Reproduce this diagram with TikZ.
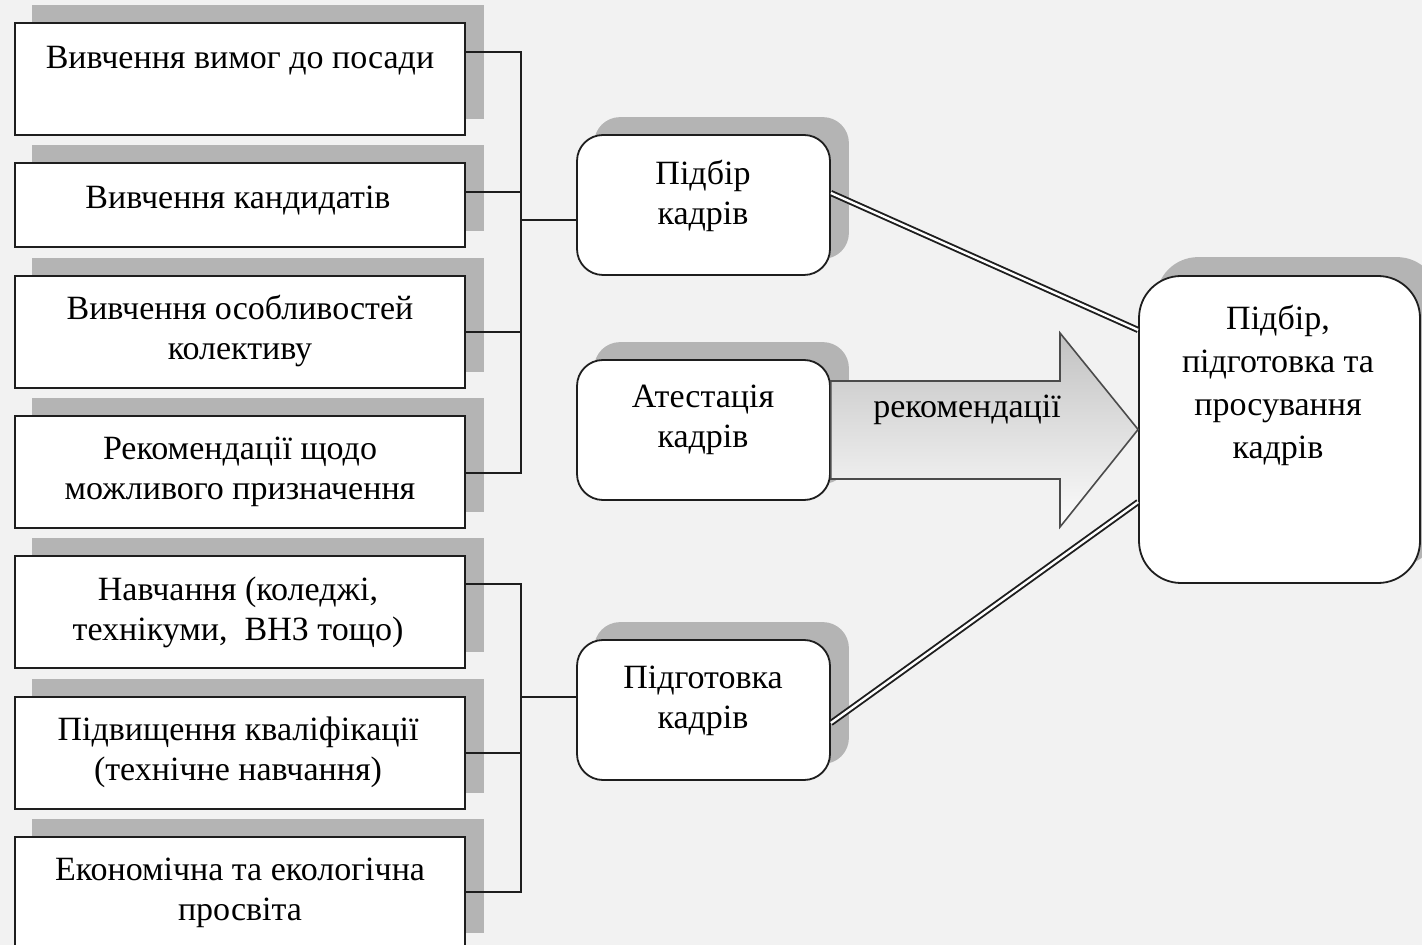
\documentclass[tikz,border=0pt]{standalone}
\usepackage{fontspec}
\setmainfont{Liberation Serif}
\usetikzlibrary{calc}
\definecolor{bg}{HTML}{F2F2F2}
\definecolor{shad}{HTML}{B4B4B4}
\definecolor{arrtop}{HTML}{C2C2C2}
\definecolor{arrbot}{HTML}{FCFCFC}
\definecolor{edge}{HTML}{1E1E1E}
\pgfdeclarelayer{bgl}
\pgfdeclarelayer{shl}
\pgfsetlayers{bgl,shl,main}
\begin{document}
\begin{tikzpicture}[x=0.5pt,y=-0.5pt,
  sqbox/.style={draw=edge, line width=0.9pt, fill=white, minimum width=225pt, inner sep=0pt},
  rbox/.style={draw=edge, line width=0.9pt, fill=white, rounded corners=13pt,
    minimum width=126.5pt, minimum height=70pt, inner sep=0pt},
  bigbox/.style={draw=edge, line width=0.9pt, fill=white, rounded corners=21pt,
    minimum width=140.5pt, minimum height=153.5pt, inner sep=0pt},
  txt/.style={align=center, font=\fontsize{17}{20}\selectfont, inner sep=0pt},
  link/.style={line width=0.9pt, draw=edge},
  dbl/.style={draw=edge, double=white, double distance=1.2pt, line width=0.95pt},
  arrowsh/.style={draw=edge!80, line width=0.8pt, top color=arrtop, bottom color=arrbot},
  shadowfill/.style={fill=shad}
]
\useasboundingbox (0,0) rectangle (1422,945);

% left boxes
\node[sqbox, minimum height=56pt] (b1) at (240,79) {};
\node[sqbox, minimum height=42pt] (b2) at (240,205) {};
\node[sqbox, minimum height=56pt] (b3) at (240,332) {};
\node[sqbox, minimum height=56pt] (b4) at (240,472) {};
\node[sqbox, minimum height=56pt] (b5) at (240,612) {};
\node[sqbox, minimum height=56pt] (b6) at (240,753) {};
\node[sqbox, minimum height=56pt] (b7) at (240,893) {};

\node[txt] (t1) at (240,61) {Вивчення вимог до посади};
\node[txt] (t2) at (238,201) {Вивчення кандидатів};
\node[txt] (t3) at (240,331.5) {Вивчення особливостей\\колективу};
\node[txt] (t4) at (240,472) {Рекомендації щодо\\можливого призначення};
\node[txt] (t5) at (238,612) {Навчання (коледжі,\\технікуми,\ \ ВНЗ тощо)};
\node[txt] (t6) at (238,752) {Підвищення кваліфікації\\(технічне навчання)};
\node[txt] (t7) at (240,893) {Економічна та екологічна\\просвіта};

% middle boxes
\node[rbox] (p1) at (703.5,205) {};
\node[rbox] (p2) at (703.5,430) {};
\node[rbox] (p3) at (703.5,710) {};
\node[txt] (q1) at (703,196) {Підбір\\кадрів};
\node[txt] (q2) at (703,420) {Атестація\\кадрів};
\node[txt] (q3) at (703,701) {Підготовка\\кадрів};

% right box
\node[bigbox] (r) at (1279.5,429.5) {};
\node[txt, font=\fontsize{17}{21.5}\selectfont] (rt) at (1278,385.5) {Підбір,\\підготовка та\\просування\\кадрів};

% background and shadows
\begin{pgfonlayer}{bgl}
\fill[bg] (0,0) rectangle (1422,945);
\end{pgfonlayer}
\begin{pgfonlayer}{shl}
\foreach \b in {b1,b2,b3,b4,b5,b6,b7}
  \fill[shadowfill] ($(\b.south west)+(18,-17)$) rectangle ($(\b.north east)+(18,-17)$);
\foreach \b in {p1,p2,p3}
  \fill[shadowfill, rounded corners=13pt] ($(\b.south west)+(18,-17)$) rectangle ($(\b.north east)+(18,-17)$);
\fill[shadowfill, rounded corners=21pt] ($(r.south west)+(18,-18)$) rectangle ($(r.north east)+(18,-18)$);
\end{pgfonlayer}

% connectors upper group
\coordinate (u1) at (521,52);
\coordinate (u2) at (521,192);
\coordinate (u3) at (521,332);
\coordinate (u4) at (521,473);
\coordinate (uj) at (521,220);
\draw[link] (b1.east |- u1) -- (u1) -- (u4) -- (b4.east |- u4);
\draw[link] (b2.east |- u2) -- (u2);
\draw[link] (b3.east |- u3) -- (u3);
\draw[link] (uj) -- (p1.west |- uj);

% connectors lower group
\coordinate (l1) at (521,584);
\coordinate (l2) at (521,753);
\coordinate (l3) at (521,892);
\coordinate (lj) at (521,697);
\draw[link] (b5.east |- l1) -- (l1) -- (l3) -- (b7.east |- l3);
\draw[link] (b6.east |- l2) -- (l2);
\draw[link] (lj) -- (p3.west |- lj);

% block arrow
\path[arrowsh] (p2.east |- 0,381) -- (1060,381) -- (1060,333) -- (r.west)
  -- (1060,527) -- (1060,479) -- (p2.east |- 0,479) -- cycle;
\node[txt] (rec) at (967,410) {рекомендації};

% double connectors
\draw[dbl] ($(p1.east)+(0,-12)$) -- ($(r.west)+(0,-99.5)$);
\draw[dbl] ($(p3.east)+(0,13)$) -- ($(r.west)+(0,72.5)$);
\end{tikzpicture}
\end{document}
